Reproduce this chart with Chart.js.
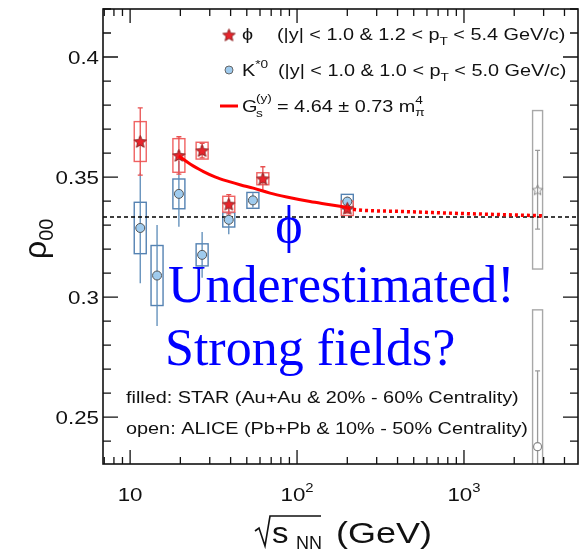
<!DOCTYPE html>
<html><head><meta charset="utf-8">
<script src="https://cdn.jsdelivr.net/npm/chart.js@4.4.0/dist/chart.umd.min.js"></script>
<style>html,body{margin:0;padding:0;background:#fff;}#wrap{width:580px;height:550px;position:relative;}</style>
</head><body><div id="wrap"><canvas id="c" width="580" height="550"></canvas></div>
<script>
// ---------------- data ----------------
const starPhiX    = [11.5, 19.6, 27, 39, 62.4, 200];
const starPhiY    = [0.3648, 0.3590, 0.3610, 0.3387, 0.3493, 0.3370];
const starPhiStat = [0.0140, 0.0078, 0.0030, 0.0040, 0.0050, 0.0020];
const starPhiSys  = [0.0083, 0.0070, 0.0035, 0.0033, 0.0025, 0.0030];

const starKX    = [11.5, 14.5, 19.6, 27, 39, 54.4, 200];
const starKY    = [0.3288, 0.3090, 0.3430, 0.3176, 0.3322, 0.3403, 0.3398];
const starKStat = [0.0230, 0.0210, 0.0137, 0.0095, 0.0060, 0.0030, 0.0020];
const starKSys  = [0.0107, 0.0125, 0.0062, 0.0046, 0.0030, 0.0033, 0.0030];

const aliceX       = [2760];
const alicePhiY    = [0.3447];
const alicePhiStat = [0.0164];
const alicePhiSys  = [0.0330];
const aliceKY      = [0.2377];
const aliceKStat   = [0.0316];
const aliceKSys    = [0.0570];

const fitX = [19.6, 23, 27.5, 32.5, 38.8, 46, 54.7, 68.9, 86.7, 119.7, 157.7, 200];
const fitY = [0.3588, 0.3553, 0.3523, 0.3500, 0.3482, 0.3467, 0.3454, 0.3433, 0.3417, 0.3398, 0.3385, 0.3373];
const extX = [200, 216, 414, 652, 1247, 2590, 2950];
const extY = [0.3373, 0.3366, 0.3357, 0.3352, 0.3346, 0.3340, 0.3339];

const refX = [6.88, 4820];
const refY = [1/3, 1/3];

const xTicks = [10, 100, 1000];
const xTickBase = ['10', '10', '10'];
const xTickExp  = ['', '2', '3'];
const yTicks = [0.25, 0.30, 0.35, 0.40];
const yTickLabels = ['0.25', '0.3', '0.35', '0.4'];

const X_MIN = 6.88, X_MAX = 4820, Y_MIN = 0.2305, Y_MAX = 0.42;
// --------------------------------------

const SANS = '"Liberation Sans", Arial, Helvetica, sans-serif';
const SERIF = '"Liberation Serif", "Times New Roman", serif';
const SX = 1.24; // horizontal stretch of the original figure's text
const pts = (xs, ys) => xs.map((v, i) => ({x: v, y: ys[i]}));

function starPath(ctx, cx, cy, R, r) {
  ctx.beginPath();
  for (let k = 0; k < 10; k++) {
    const ang = -Math.PI / 2 + k * Math.PI / 5;
    const rad = k % 2 === 0 ? R : r;
    const px = cx + rad * Math.cos(ang), py = cy + rad * Math.sin(ang);
    k === 0 ? ctx.moveTo(px, py) : ctx.lineTo(px, py);
  }
  ctx.closePath();
}
function makeStar(fill, stroke, R) {
  const c = document.createElement('canvas');
  const s = Math.ceil(2 * R + 4);
  c.width = s; c.height = s;
  const g = c.getContext('2d');
  starPath(g, s / 2, s / 2 + 0.5, R, R * 0.45);
  if (fill) { g.fillStyle = fill; g.fill(); }
  g.lineWidth = 1; g.strokeStyle = stroke; g.stroke();
  return c;
}
const redStar = makeStar('#e8242c', '#8a2020', 6.5);
const greyStar = makeStar(null, '#8a8a8a', 5.5);

function drawErr(ctx, xs, ys, X, Y, stat, sys, boxCol, barCol, halfW, cap) {
  for (let i = 0; i < X.length; i++) {
    const px = xs.getPixelForValue(X[i]);
    const t = ys.getPixelForValue(Y[i] + sys[i]), b = ys.getPixelForValue(Y[i] - sys[i]);
    ctx.strokeStyle = boxCol; ctx.lineWidth = 1.4;
    ctx.strokeRect(px - halfW, t, 2 * halfW, b - t);
    const st = ys.getPixelForValue(Y[i] + stat[i]), sb = ys.getPixelForValue(Y[i] - stat[i]);
    ctx.strokeStyle = barCol; ctx.lineWidth = 1.3;
    ctx.beginPath(); ctx.moveTo(px, st); ctx.lineTo(px, sb);
    if (cap) { ctx.moveTo(px - cap, st); ctx.lineTo(px + cap, st); ctx.moveTo(px - cap, sb); ctx.lineTo(px + cap, sb); }
    ctx.stroke();
  }
}

// draw runs [text, size, dy] starting at x with horizontal stretch sx; returns end x
function runs(ctx, x, y, list, sx) {
  sx = sx || SX;
  ctx.save();
  ctx.translate(x, y); ctx.scale(sx, 1);
  let cx = 0;
  for (const [t, fs, dy] of list) {
    ctx.font = fs + 'px ' + SANS;
    ctx.fillText(t, cx, dy);
    cx += ctx.measureText(t).width;
  }
  ctx.restore();
  return x + cx * sx;
}
function runsWidth(ctx, list, sx) {
  let w = 0;
  for (const [t, fs] of list) { ctx.font = fs + 'px ' + SANS; w += ctx.measureText(t).width; }
  return w * (sx || SX);
}

const custom = {
  id: 'custom',
  beforeDatasetsDraw(chart) {
    const {ctx, chartArea: a, scales: {x, y}} = chart;
    ctx.save();
    ctx.beginPath(); ctx.rect(a.left, a.top, a.right - a.left, a.bottom - a.top); ctx.clip();
    drawErr(ctx, x, y, aliceX, alicePhiY, alicePhiStat, alicePhiSys, '#a8a8a8', '#9a9a9a', 5, 2.5);
    drawErr(ctx, x, y, aliceX, aliceKY, aliceKStat, aliceKSys, '#a8a8a8', '#9a9a9a', 5, 2.5);
    drawErr(ctx, x, y, starKX, starKY, starKStat, starKSys, '#5482b2', '#5a8ab8', 6, 0);
    drawErr(ctx, x, y, starPhiX, starPhiY, starPhiStat, starPhiSys, '#f06262', '#e85050', 6, 2.5);
    ctx.restore();
  },
  afterDraw(chart) {
    const {ctx, chartArea: a, scales: {x, y}} = chart;
    ctx.save();
    // frame
    ctx.strokeStyle = '#111'; ctx.lineWidth = 1.6;
    ctx.strokeRect(a.left, a.top, a.right - a.left, a.bottom - a.top);
    // inward ticks
    ctx.lineWidth = 1.3; ctx.beginPath();
    for (let k = 23; k <= 42; k++) {
      const v = k / 100;
      if (v < Y_MIN || v > Y_MAX) continue;
      const py = y.getPixelForValue(v);
      const L = k % 5 === 0 ? 15 : 8;
      ctx.moveTo(a.left, py); ctx.lineTo(a.left + L, py);
      ctx.moveTo(a.right, py); ctx.lineTo(a.right - L, py);
    }
    for (let d = 0; d <= 3; d++) {
      for (let m = 1; m <= 9; m++) {
        const v = m * Math.pow(10, d);
        if (v < X_MIN || v > X_MAX) continue;
        const px = x.getPixelForValue(v);
        const L = m === 1 ? 14 : 7;
        ctx.moveTo(px, a.bottom); ctx.lineTo(px, a.bottom - L);
        ctx.moveTo(px, a.top); ctx.lineTo(px, a.top + L);
      }
    }
    ctx.stroke();

    ctx.fillStyle = '#111'; ctx.textBaseline = 'alphabetic'; ctx.textAlign = 'left';
    // y tick labels (from the y scale's ticks)
    y.ticks.forEach(t => {
      const i = yTicks.findIndex(v => Math.abs(v - t.value) < 1e-9);
      if (i < 0) return;
      const lst = [[yTickLabels[i], 18, 0]];
      const w = runsWidth(ctx, lst);
      runs(ctx, 99 - w, y.getPixelForValue(t.value) + 6.5, lst);
    });
    // x tick labels (from the x scale's ticks)
    x.ticks.forEach(t => {
      const i = xTicks.indexOf(t.value);
      if (i < 0) return;
      const lst = [[xTickBase[i], 18, 0]];
      if (xTickExp[i]) lst.push([xTickExp[i], 12, -9]);
      const w = runsWidth(ctx, lst);
      runs(ctx, x.getPixelForValue(t.value) - w / 2, 501, lst);
    });

    // legend
    ctx.drawImage(redStar, 229 - redStar.width / 2, 35 - redStar.height / 2);
    runs(ctx, 242, 40, [['\u03D5', 16, 0]]);
    runs(ctx, 277, 40, [['(|y| < 1.0 & 1.2 < p', 16, 0], ['T', 11, 5], [' < 5.4 GeV/c)', 16, 0]]);
    ctx.beginPath(); ctx.arc(229, 70, 4, 0, 2 * Math.PI);
    ctx.fillStyle = '#9fcbee'; ctx.fill(); ctx.strokeStyle = '#666'; ctx.lineWidth = 1; ctx.stroke();
    ctx.fillStyle = '#111';
    runs(ctx, 242, 76, [['K', 16, 0], ['*0', 11, -8]]);
    runs(ctx, 278, 76, [['(|y| < 1.0 & 1.0 < p', 16, 0], ['T', 11, 5], [' < 5.0 GeV/c)', 16, 0]]);
    ctx.strokeStyle = '#ff0000'; ctx.lineWidth = 3;
    ctx.beginPath(); ctx.moveTo(220, 106); ctx.lineTo(238, 106); ctx.stroke();
    runs(ctx, 242, 112, [['G', 16, 0]]);
    runs(ctx, 256, 112, [['(y)', 11, -10]]);
    runs(ctx, 256, 112, [['s', 11, 5]]);
    const ex = runs(ctx, 277, 112, [['= 4.64 \u00B1 0.73 m', 16, 0]]);
    runs(ctx, ex, 112, [['4', 11, -8]]);
    runs(ctx, ex, 112, [['\u03C0', 11, 4]]);

    // notes
    runs(ctx, 126, 403, [['filled: STAR (Au+Au & 20% - 60% Centrality)', 16, 0]]);
    runs(ctx, 126, 434, [['open: ALICE (Pb+Pb & 10% - 50% Centrality)', 16, 0]]);

    // y title
    ctx.save();
    ctx.translate(46, 259); ctx.rotate(-Math.PI / 2);
    ctx.font = '32px ' + SANS; ctx.fillText('\u03C1', 0, 0);
    const rw = ctx.measureText('\u03C1').width;
    ctx.font = '20px ' + SANS; ctx.fillText('00', rw, 7);
    ctx.restore();

    // x title
    ctx.strokeStyle = '#111'; ctx.lineWidth = 1.6;
    ctx.beginPath();
    ctx.moveTo(255, 531); ctx.lineTo(259, 528); ctx.lineTo(265, 546); ctx.lineTo(270, 516); ctx.lineTo(321, 516);
    ctx.stroke();
    runs(ctx, 272, 543, [['s', 30, 0]], 1.1);
    runs(ctx, 296, 549, [['NN', 18, 0]], 1.0);
    runs(ctx, 336, 543, [['(GeV)', 30, 0]], 1.2);

    // annotations
    ctx.fillStyle = '#0000ff';
    ctx.font = '52px ' + SERIF;
    ctx.textAlign = 'center';
    ctx.fillText('\u03D5', 289, 242);
    ctx.textAlign = 'left';
    ctx.fillText('Underestimated!', 168, 302);
    ctx.fillText('Strong fields?', 165, 365);
    ctx.restore();
  }
};

new Chart(document.getElementById('c'), {
  type: 'scatter',
  data: {
    datasets: [
      {type: 'line', data: pts(refX, refY), borderColor: '#000', borderWidth: 1.5, borderDash: [4, 3], pointRadius: 0, order: 5},
      {type: 'line', data: pts(fitX, fitY), borderColor: '#ff0000', borderWidth: 3, cubicInterpolationMode: 'monotone', pointRadius: 0, order: 1},
      {type: 'line', data: pts(extX, extY), borderColor: '#ff0000', borderWidth: 3.5, borderDash: [3, 3], cubicInterpolationMode: 'monotone', pointRadius: 0, order: 1},
      {data: pts(starPhiX, starPhiY), pointStyle: redStar, pointRadius: 7, order: 2},
      {data: pts(starKX, starKY), pointStyle: 'circle', pointRadius: 4.5, backgroundColor: '#9fcbee', borderColor: '#555', borderWidth: 1, order: 3},
      {data: pts(aliceX, alicePhiY), pointStyle: greyStar, pointRadius: 6, order: 2},
      {data: pts(aliceX, aliceKY), pointStyle: 'circle', pointRadius: 4, backgroundColor: '#fff', borderColor: '#888', borderWidth: 1.2, order: 2}
    ]
  },
  options: {
    responsive: false, animation: false, devicePixelRatio: 1,
    layout: {autoPadding: false, padding: {top: 9, right: 2, left: 0, bottom: 0}},
    plugins: {legend: {display: false}, tooltip: {enabled: false}},
    scales: {
      x: {
        type: 'logarithmic', min: X_MIN, max: X_MAX,
        grid: {display: false, drawTicks: false}, border: {display: false},
        afterBuildTicks: s => { s.ticks = xTicks.map(v => ({value: v})); },
        afterFit: s => { s.height = 86; },
        ticks: {display: false}
      },
      y: {
        min: Y_MIN, max: Y_MAX,
        grid: {display: false, drawTicks: false}, border: {display: false},
        afterBuildTicks: s => { s.ticks = yTicks.map(v => ({value: v})); },
        afterFit: s => { s.width = 103; },
        ticks: {display: false}
      }
    }
  },
  plugins: [custom]
});
</script>
</body></html>
